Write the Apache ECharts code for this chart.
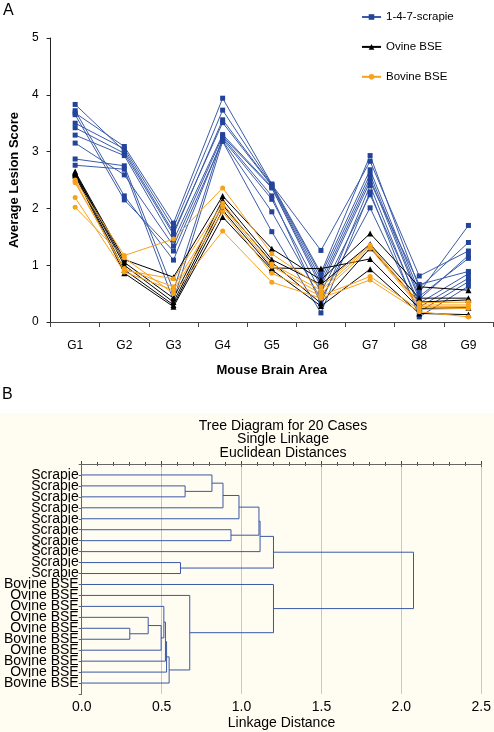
<!DOCTYPE html>
<html>
<head>
<meta charset="utf-8">
<script src="https://cdn.jsdelivr.net/npm/echarts@6/dist/echarts.min.js"></script>
<style>
html,body{margin:0;padding:0;background:#fff;}
#chart{width:494px;height:732px;}
</style>
</head>
<body>
<div id="chart"></div>
<script>
// ---------- Panel A data ----------
const areas = ['G1','G2','G3','G4','G5','G6','G7','G8','G9'];
const yTicks = [0,1,2,3,4,5];
const scrapie = [
  [3.83,3.01,1.58,3.51,2.40,0.75,2.60,0.45,1.12],
  [3.72,2.22,1.09,3.22,2.16,0.52,2.24,0.33,0.85],
  [3.68,3.09,1.74,3.94,2.43,0.86,2.93,0.60,1.40],
  [3.65,2.15,1.25,3.19,1.94,0.40,2.01,0.18,0.71],
  [3.50,3.05,1.66,3.73,2.42,1.26,2.83,0.81,1.25],
  [3.42,2.97,1.54,3.56,2.41,0.82,2.68,0.52,1.70],
  [3.29,2.93,1.44,3.30,2.38,0.68,2.53,0.40,1.17],
  [3.15,2.59,1.34,3.27,2.36,0.62,2.47,0.66,0.89],
  [2.87,2.75,0.55,3.25,2.22,0.32,2.40,0.26,0.77],
  [2.76,2.69,0.38,3.18,1.59,0.16,2.29,0.09,0.63]
];
const ovineBSE = [
  [2.65,1.10,0.79,2.22,1.29,0.74,1.56,0.62,0.56],
  [2.63,1.05,0.42,2.15,1.10,0.66,1.37,0.42,0.42],
  [2.62,1.00,0.35,2.06,1.05,0.33,1.30,0.35,0.39],
  [2.60,0.92,0.30,1.97,0.95,0.94,1.11,0.24,0.25],
  [2.58,0.86,0.27,1.85,0.92,0.28,0.93,0.15,0.13]
];
const bovineBSE = [
  [2.50,1.17,1.46,2.36,1.20,0.62,1.35,0.34,0.35],
  [2.48,0.91,0.76,2.09,1.02,0.56,1.33,0.30,0.30],
  [2.45,0.94,0.62,2.03,0.98,0.50,1.30,0.27,0.27],
  [2.19,0.88,0.56,1.94,0.86,0.46,0.80,0.22,0.24],
  [2.02,1.13,0.50,1.60,0.70,0.42,0.74,0.18,0.09]
];
const groupNames = ['1-4-7-scrapie','Ovine BSE','Bovine BSE'];

// ---------- Panel B data (single linkage tree) ----------
const leafLabels = ['Scrapie','Scrapie','Scrapie','Scrapie','Scrapie','Scrapie','Scrapie','Scrapie','Scrapie','Scrapie',
  'Bovine BSE','Ovine BSE','Ovine BSE','Ovine BSE','Ovine BSE','Bovine BSE','Ovine BSE','Bovine BSE','Ovine BSE','Bovine BSE'];
// nodes 0..19 are leaves; merge k creates node 20+k
const mergeA      = [14, 13, 21, 12, 23, 24, 25, 11, 8,    1,    0,    30,   31,   5,    32,   34,   35,  10,  36];
const mergeB      = [15, 20, 16, 22, 17, 18, 19, 26, 9,    2,    29,   3,    4,    6,    33,   7,    28,  27,  37];
const mergeHeight = [0.301,0.416,0.497,0.514,0.524,0.531,0.547,0.676,0.618,0.647,0.815,0.884,0.984,0.934,1.109,1.116,1.20,1.20,2.076];
const distTicks = [0,0.5,1,1.5,2,2.5];

// ---------- build dendrogram segments ----------
const nodeX = leafLabels.map(() => 0);
const nodeY = leafLabels.map((_, i) => i + 1);
const segments = [];
for (let k = 0; k < mergeHeight.length; k++) {
  const a = mergeA[k], b = mergeB[k], h = mergeHeight[k];
  segments.push([nodeX[a], nodeY[a], h, nodeY[a], h, nodeY[b], nodeX[b], nodeY[b]]);
  nodeX.push(h);
  nodeY.push((nodeY[a] + nodeY[b]) / 2);
}

const FONT = '"Liberation Sans", Arial, sans-serif';
const styles = [
  {symbol:'rect', size:5, line:'#3c5ca9', mark:'#24449b', data:scrapie},
  {symbol:'triangle', size:6, line:'#000000', mark:'#000000', data:ovineBSE},
  {symbol:'circle', size:5, line:'#f7a21b', mark:'#f7a21b', data:bovineBSE}
];
const series = [];
styles.forEach((st, gi) => {
  st.data.forEach(row => {
    series.push({
      type:'line', name:groupNames[gi], xAxisIndex:0, yAxisIndex:0,
      data:row, symbol:st.symbol, symbolSize:st.size, showSymbol:true,
      lineStyle:{color:st.line, width:1}, itemStyle:{color:st.mark},
      emphasis:{disabled:true}, animation:false, silent:true
    });
  });
});
series.push({
  type:'custom', xAxisIndex:1, yAxisIndex:1, data:segments, animation:false, silent:true,
  encode:{x:[0,2,4,6], y:[1,3,5,7]},
  renderItem:function(params, api){
    const pts = [];
    for (let i = 0; i < 4; i++) pts.push(api.coord([api.value(2*i), api.value(2*i+1)]));
    return {type:'polyline', shape:{points:pts}, style:{stroke:'#3a58a6', lineWidth:1, fill:null}};
  }
});

const chart = echarts.init(document.getElementById('chart'), null, {renderer:'canvas'});
chart.setOption({
  backgroundColor:'#ffffff',
  animation:false,
  textStyle:{fontFamily:FONT},
  graphic:[
    {type:'rect', z:-100, shape:{x:0, y:413, width:494, height:319}, style:{fill:'#fffcf1'}},
    {type:'text', left:3, top:3, style:{text:'A', font:'16px ' + FONT, fill:'#000'}},
    {type:'text', left:2, top:387, style:{text:'B', font:'16px ' + FONT, fill:'#000'}}
  ],
  title:{
    text:'Tree Diagram for 20 Cases\nSingle Linkage\nEuclidean Distances',
    left:283, top:419, textAlign:'center', padding:0,
    textStyle:{fontSize:14, fontWeight:'normal', color:'#000', lineHeight:13.5, fontFamily:FONT}
  },
  legend:{
    data:groupNames, orient:'vertical', left:361, top:11, padding:0,
    itemWidth:19, itemHeight:7, itemGap:17.9,
    textStyle:{fontSize:11.5, color:'#000', fontFamily:FONT}
  },
  grid:[
    {left:41, top:38, width:452, height:284, containLabel:false},
    {left:81.7, top:464, width:400.6, height:230, containLabel:false}
  ],
  xAxis:[
    {type:'category', gridIndex:0, data:areas, boundaryGap:true,
     axisLine:{lineStyle:{color:'#444', width:1}},
     axisTick:{show:true, length:5, lineStyle:{color:'#444'}},
     axisLabel:{fontSize:12, color:'#000', margin:18, fontFamily:FONT},
     name:'Mouse Brain Area', nameLocation:'middle', nameGap:42,
     nameTextStyle:{fontSize:13, fontWeight:'bold', color:'#000', fontFamily:FONT}},
    {type:'value', gridIndex:1, min:0, max:2.5, interval:0.5, position:'bottom',
     axisLine:{lineStyle:{color:'#444'}},
     axisTick:{show:true, inside:true, length:3, lineStyle:{color:'#444'}},
     minorTick:{show:true, splitNumber:5, length:2, lineStyle:{color:'#444'}},
     splitLine:{show:true, lineStyle:{color:'#c8c8c8'}},
     axisLabel:{fontSize:14, color:'#000', margin:6, formatter:v => v.toFixed(1), fontFamily:FONT},
     name:'Linkage Distance', nameLocation:'middle', nameGap:22,
     nameTextStyle:{fontSize:14, color:'#000', fontFamily:FONT}},
    {type:'value', gridIndex:1, min:0, max:2.5, interval:0.5, position:'top',
     axisLine:{lineStyle:{color:'#666'}},
     axisTick:{show:true, inside:true, length:3, lineStyle:{color:'#666'}},
     minorTick:{show:true, splitNumber:5, length:2, lineStyle:{color:'#666'}},
     splitLine:{show:false}, axisLabel:{show:false}}
  ],
  yAxis:[
    {type:'value', gridIndex:0, min:0, max:5, interval:1,
     axisLine:{show:true, lineStyle:{color:'#222'}},
     axisTick:{show:true, length:4, lineStyle:{color:'#222'}},
     splitLine:{show:false},
     axisLabel:{fontSize:12, color:'#000', margin:12, formatter:v => (yTicks.indexOf(v) >= 0 ? String(v) : ''), fontFamily:FONT},
     name:'Average Lesion Score', nameLocation:'middle', nameGap:25,
     nameTextStyle:{fontSize:13, fontWeight:'bold', color:'#000', fontFamily:FONT}},
    {type:'value', gridIndex:1, min:0, max:21, interval:1, inverse:true,
     axisLine:{show:true, lineStyle:{color:'#333'}},
     axisTick:{show:false}, splitLine:{show:false},
     axisLabel:{fontSize:14, color:'#000', margin:3, fontFamily:FONT,
       formatter:v => (v >= 1 && v <= leafLabels.length ? leafLabels[v-1] : '')}},
    {type:'value', gridIndex:1, min:0, max:21, interval:1, inverse:true, position:'right',
     axisLine:{show:true, lineStyle:{color:'#666'}},
     axisTick:{show:true, inside:true, length:3, lineStyle:{color:'#666'}},
     splitLine:{show:false}, axisLabel:{show:false}}
  ],
  series:series
});
</script>
</body>
</html>
